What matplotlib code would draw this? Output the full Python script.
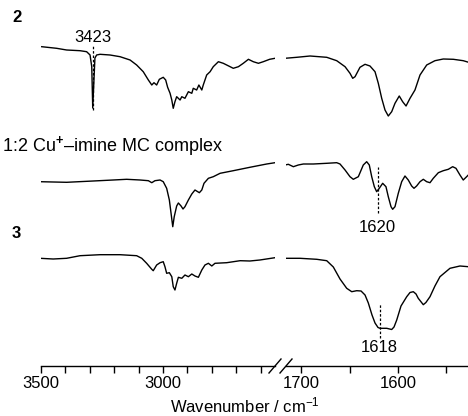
import numpy as np
import matplotlib
matplotlib.use("Agg")
import matplotlib.pyplot as plt

plt.rcParams["font.family"] = ["Liberation Sans", "DejaVu Sans"]
plt.rcParams["mathtext.fontset"] = "custom"
plt.rcParams["mathtext.rm"] = "Liberation Sans"
plt.rcParams["mathtext.it"] = "Liberation Sans:italic"
plt.rcParams["mathtext.bf"] = "Liberation Sans:bold"

# ── data: wavenumber (cm-1) and offset transmittance (a.u.) ─────
# sample 2
w2_hi = [3497, 3436, 3395, 3340, 3313, 3299, 3292, 3288, 3283, 3279, 3272, 3258,
         3217, 3176, 3135, 3108, 3081, 3060, 3046, 3037, 3026, 3015, 2999, 2989,
         2981, 2971, 2964, 2958, 2951, 2944, 2930, 2923, 2910, 2896, 2882, 2876,
         2862, 2853, 2841, 2835, 2821, 2807, 2794, 2773, 2753, 2725, 2712, 2691,
         2671, 2650, 2630, 2609, 2589, 2563, 2541]
t2_hi = [369.3, 367.7, 366.0, 365.3, 364.3, 361.0, 349.3, 308.0, 336.0, 358.0, 361.0, 361.7,
         361.0, 359.3, 356.0, 351.0, 344.3, 336.0, 331.0, 333.3, 331.0, 336.7, 338.7, 336.0,
         328.7, 322.7, 316.0, 307.7, 314.3, 319.3, 316.0, 319.3, 317.7, 324.3, 322.7, 327.7,
         326.0, 331.0, 326.0, 331.0, 341.0, 344.3, 349.3, 354.3, 352.7, 349.3, 347.7, 349.3,
         352.7, 356.7, 354.3, 352.7, 354.3, 356.7, 357.7]
w2_lo = [1716.5, 1704.4, 1690.7, 1673.5, 1663.2, 1654.6, 1649.5, 1646.7, 1644.3, 1639.2,
         1634.0, 1628.9, 1623.7, 1620.3, 1616.8, 1613.4, 1610.0, 1606.5, 1603.1, 1598.7,
         1595.2, 1591.7, 1587.6, 1582.5, 1577.3, 1570.4, 1561.9, 1553.3, 1542.9, 1532.7, 1525.8]
t2_lo = [357.7, 358.7, 360.0, 358.7, 355.3, 349.3, 342.7, 337.7, 339.3, 348.7,
         351.7, 350.0, 344.3, 332.7, 317.7, 306.0, 300.0, 304.3, 312.7, 320.0,
         314.3, 310.0, 317.7, 326.0, 341.0, 351.0, 355.3, 357.0, 356.7, 355.3, 353.3]

# 1:2 Cu+-imine MC complex
wm_hi = [3504, 3395, 3286, 3204, 3149, 3094, 3060, 3046, 3033, 3012, 2999, 2985,
         2974, 2967, 2960, 2954, 2944, 2937, 2926, 2918, 2910, 2896, 2882, 2869,
         2851, 2841, 2832, 2814, 2794, 2766, 2712, 2644, 2575, 2541]
tm_hi = [234.3, 233.7, 235.0, 236.0, 236.7, 236.0, 235.3, 233.3, 235.3, 236.0, 234.3, 227.7,
         216.0, 202.7, 189.3, 199.3, 210.0, 213.0, 210.0, 207.0, 209.3, 216.0, 222.0, 226.0,
         223.3, 226.0, 232.7, 237.7, 239.3, 242.7, 245.3, 248.7, 252.0, 253.3]
wm_lo = [1716.5, 1713.1, 1707.9, 1702.8, 1697.6, 1687.3, 1673.5, 1663.2, 1659.8, 1654.6,
         1649.5, 1646.1, 1640.9, 1635.8, 1632.3, 1629.6, 1627.1, 1624.4, 1622.0, 1619.3,
         1615.8, 1612.4, 1610.0, 1607.2, 1605.5, 1603.1, 1599.7, 1596.2, 1592.8, 1589.4,
         1585.9, 1583.5, 1580.8, 1577.3, 1573.9, 1570.4, 1567.0, 1563.6, 1558.4, 1553.3,
         1548.1, 1543.6, 1540.2, 1536.1, 1532.7, 1529.2, 1527.5]
tm_lo = [251.0, 251.7, 249.3, 251.0, 252.0, 252.0, 252.7, 253.3, 252.0, 246.0,
         239.3, 236.7, 239.3, 251.0, 254.3, 251.0, 239.3, 229.3, 224.3, 227.7,
         232.7, 229.3, 219.3, 209.3, 206.7, 209.3, 222.7, 234.3, 240.0, 236.0,
         230.0, 227.7, 230.0, 234.3, 236.7, 234.3, 233.3, 237.7, 243.3, 245.3,
         246.7, 249.3, 247.7, 241.0, 236.0, 239.3, 241.0]

# sample 3
w3_hi = [3504, 3450, 3395, 3340, 3258, 3176, 3108, 3087, 3067, 3046, 3040, 3026,
         3012, 2999, 2992, 2985, 2974, 2964, 2958, 2951, 2944, 2937, 2923, 2910,
         2896, 2882, 2869, 2855, 2841, 2828, 2814, 2800, 2787, 2739, 2684, 2644,
         2603, 2541]
t3_hi = [157.7, 157.0, 157.7, 160.3, 161.3, 161.3, 160.3, 157.7, 152.7, 146.7, 145.3, 151.0,
         153.3, 154.3, 149.3, 142.7, 143.3, 139.3, 129.3, 126.0, 132.7, 138.7, 137.7, 141.0,
         139.3, 142.0, 140.0, 138.7, 146.0, 151.0, 152.7, 150.0, 152.7, 153.3, 155.3, 155.0,
         156.0, 158.3]
w3_lo = [1716.5, 1701.0, 1683.8, 1673.5, 1666.7, 1659.8, 1652.9, 1647.7, 1642.6, 1638.1,
         1634.0, 1630.6, 1626.8, 1623.7, 1620.6, 1618.5, 1611.6, 1606.5, 1604.1, 1601.3,
         1596.9, 1591.0, 1587.6, 1584.2, 1581.4, 1579.1, 1573.9, 1571.2, 1567.0, 1561.9,
         1556.7, 1546.4, 1536.1, 1527.5]
t3_lo = [157.7, 157.7, 156.7, 155.3, 149.0, 137.0, 127.7, 124.3, 125.3, 125.0,
         121.0, 113.0, 101.0, 93.0, 88.5, 87.7, 87.7, 86.5, 89.0, 96.0,
         110.0, 119.3, 123.5, 124.3, 122.0, 117.7, 111.3, 113.5, 119.3, 130.0,
         139.3, 147.7, 150.0, 149.3]

# annotated bands: axis position, label, dashed span, label height
band_pos   = [3288, 1621, 1619]
band_text  = ["3423", "1620", "1618"]
band_span  = [(306, 371), (203, 249), (78, 112)]
band_texty = [379, 189, 69]

# sample names and the height where they sit
names   = ["2", "1:2 Cu$^{\\mathbf{+}}$\u2013imine MC complex", "3"]
names_y = [398, 270, 183]
names_bold = [True, False, True]

# ── figure ───────────────────────────────────────────────
W, H = 468, 416
fig = plt.figure(figsize=(W / 100, H / 100), dpi=100)
ax1 = fig.add_axes([41 / W, 50 / H, 234 / W, 366 / H])
ax2 = fig.add_axes([286 / W, 50 / H, 182 / W, 366 / H])

lw = 1.0
ax1.plot(w2_hi, t2_hi, color="black", lw=lw)
ax1.plot(wm_hi, tm_hi, color="black", lw=lw)
ax1.plot(w3_hi, t3_hi, color="black", lw=lw)
ax2.plot(w2_lo, t2_lo, color="black", lw=lw)
ax2.plot(wm_lo, tm_lo, color="black", lw=lw)
ax2.plot(w3_lo, t3_lo, color="black", lw=lw)

ax1.set_xlim(3500, 2541)
ax2.set_xlim(1715.5, 1527.8)
for ax in (ax1, ax2):
    ax.set_ylim(50, 416)
    for s in ("top", "left", "right"):
        ax.spines[s].set_visible(False)
    ax.spines["bottom"].set_linewidth(1.0)
    ax.set_yticks([])
    ax.patch.set_alpha(0)
    ax.tick_params(axis="x", which="both", direction="out", length=5,
                   width=1.0, labelsize=12, pad=2)

ax1.set_xticks([3500, 3000])
ax1.set_xticks(np.arange(3500, 2541, -100), minor=True)
ax2.set_xticks([1700, 1600])
ax2.set_xticks([1700, 1650, 1600, 1550], minor=True)

# dashed markers + band labels
for i, (pos, txt) in enumerate(zip(band_pos, band_text)):
    ax = ax1 if pos > 2000 else ax2
    ax.plot([pos, pos], band_span[i], color="black", lw=0.9,
            linestyle=(0, (2, 1.5)))
    ax.text(pos, band_texty[i], txt, ha="center", va="center", fontsize=12)

# axis-break slashes
d = dict(color="black", lw=1.0, clip_on=False)
for ax, xa in ((ax1, 1.0), (ax2, 0.0)):
    tr = ax.transAxes
    dx = 6 / (ax.get_position().width * W)
    dy = 7 / (ax.get_position().height * H)
    ax.plot([xa - dx, xa + dx], [-dy, dy], transform=tr, **d)

for name, y, bold in zip(names, names_y, names_bold):
    fig.text(12 / W if bold else 2 / W, y / H, name, ha="left", va="center",
             fontsize=12 if bold else 13,
             fontweight="bold" if bold else "normal")

fig.text(245 / W, 11 / H, "Wavenumber / cm$^{-1}$", ha="center", va="center",
         fontsize=12)

fig.savefig("out.png", dpi=100)
